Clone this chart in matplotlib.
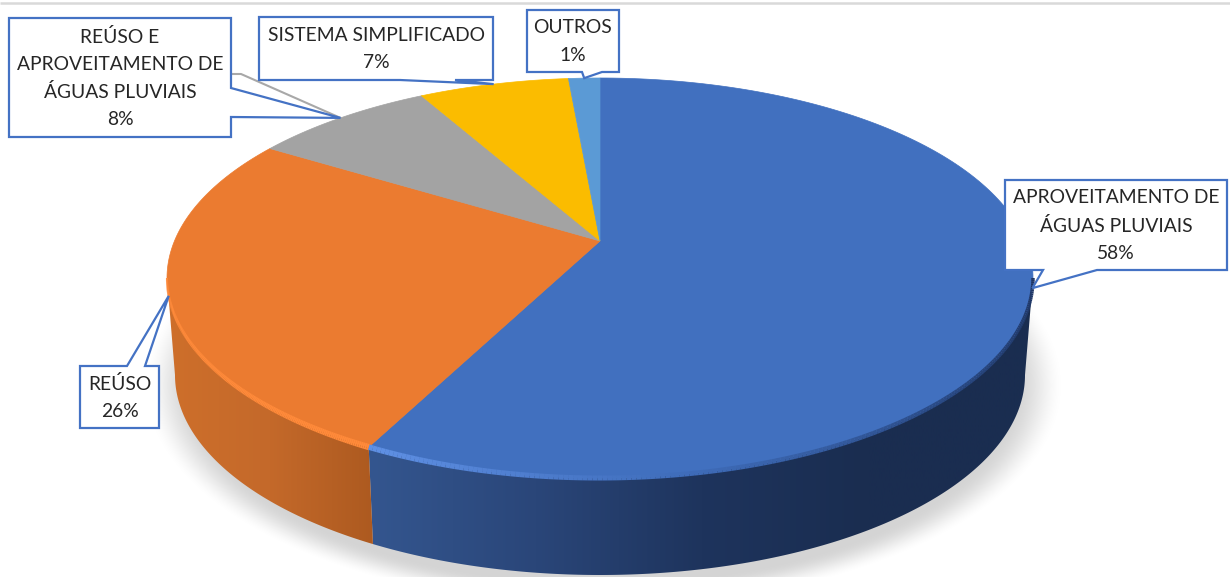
import numpy as np
import matplotlib
matplotlib.use('Agg')
import matplotlib.pyplot as plt
from matplotlib.collections import LineCollection
from matplotlib.colors import LinearSegmentedColormap
from matplotlib.patches import Polygon

# shares as drawn (labels show the rounded numbers)
categories = ['APROVEITAMENTO DE\nÁGUAS PLUVIAIS', 'REÚSO',
              'REÚSO E\nAPROVEITAMENTO DE\nÁGUAS PLUVIAIS',
              'SISTEMA SIMPLIFICADO', 'OUTROS']
shares = [57.5, 26.3, 8.1, 6.7, 1.4]
pct_labels = ['58%', '26%', '8%', '7%', '1%']
colors = ['#4170bf', '#eb7b30', '#a3a3a3', '#fbbc00', '#5b9ad5']

# label boxes: left, top, right, bottom, then where the pointer leaves the box
boxes = [(1005, 180, 1227, 270), (80, 366, 159, 428), (9, 18, 231, 137),
         (259, 17, 493, 80), (527, 10, 619, 72)]
bases = [((1043, 270), (1097, 270)), ((127, 366), (145, 366)),
         ((231, 88), (231, 117)), ((400, 80), (455, 80)), ((582, 72), (602, 72))]

plt.rcParams['font.family'] = ['Lato', 'DejaVu Sans']

fig = plt.figure(figsize=(12.3, 5.77), dpi=100)
ax = fig.add_axes([0, 0, 1, 1])
ax.set_axis_off()

# pie geometry in pixels
cx, cy, rx, ry = 600, 278, 433, 200
lcx, lcy, lrx, lry = 600, 375, 425, 200
d = (cy - 241) / ry  # perspective shift of the apex


def rim(theta, low=False):
    t = np.radians(theta)
    u, v = np.sin(t), np.cos(t)
    w = 1 + d * v
    up = u * np.sqrt(1 - d * d) / w
    vp = (v + d) / w
    if low:
        return lcx + lrx * up, lcy - lry * vp
    return cx + rx * up, cy - ry * vp


# soft shadow under the pie
yy, xx = np.mgrid[0:577, 0:1230]
r = np.sqrt(((xx - 603) / 432.0) ** 2 + ((yy - 385) / 208.0) ** 2)
a = np.clip((1.07 - r) / 0.12, 0, 1)
shadow = np.zeros((577, 1230, 4))
shadow[..., 3] = 0.17 * a * a * (3 - 2 * a)
ax.imshow(shadow, extent=(0, 1230, 577, 0), aspect='auto', zorder=1)

edges = np.cumsum([0] + shares) * 3.6
side_start = np.degrees(np.arccos(-d))
side_end = 360 - side_start


def draw_side(t0, t1, stops):
    th = np.linspace(t0, t1, 200)
    xt, yt = rim(th)
    xl, yl = rim(th[::-1], low=True)
    poly = Polygon(np.c_[np.r_[xt, xl], np.r_[yt, yl]], closed=True, fc='none', ec='none')
    ax.add_patch(poly)
    x0, x1 = min(xt.min(), xl.min()), max(xt.max(), xl.max())
    cmap = LinearSegmentedColormap.from_list('side', stops)
    im = ax.imshow(np.linspace(0, 1, 256)[None, :], extent=(x0, x1, 577, 0), aspect='auto',
                   cmap=cmap, zorder=2)
    im.set_clip_path(poly)


draw_side(side_start, edges[1], ['#34568f', '#2a4679', '#1e345d', '#1a2d50', '#1a2d50'])
draw_side(edges[1], side_end, ['#ce6f2b', '#c4692a', '#ad5a20'])

# top faces
for i in range(len(shares)):
    th = np.linspace(edges[i], edges[i + 1], 200)
    xt, yt = rim(th)
    pts = np.c_[np.r_[600, xt], np.r_[241, yt]]
    ax.add_patch(Polygon(pts, closed=True, fc=colors[i], ec=colors[i], lw=0.5, zorder=3))


def bevel(t0, t1, stops, widths):
    # highlight along the front rim, colour and width change along the arc
    th = np.linspace(t0, t1, 200)
    xt, yt = rim(th)
    seg = np.c_[xt, yt].reshape(-1, 1, 2)
    seg = np.concatenate([seg[:-1], seg[1:]], axis=1)
    cm = LinearSegmentedColormap.from_list('b', stops)
    lw = np.linspace(widths[0], widths[1], len(seg))
    ax.add_collection(LineCollection(seg, colors=cm(np.linspace(0, 1, len(seg))),
                                     linewidths=lw, zorder=4))


bevel(side_start, edges[1], ['#1f3562', '#2a4a85', '#3f6dbb', '#5f90e4'], (2.5, 4.0))
bevel(edges[1], side_end, ['#ff8a3a', '#ff8a3a'], (4.5, 1.5))

# callouts, the pointer goes to the middle of each slice's rim
for i, (box, base) in enumerate(zip(boxes, bases)):
    l, t, rr, b = box
    tip = rim((edges[i] + edges[i + 1]) / 2)
    corners = [(l, t), (rr, t), (rr, b), (l, b)]
    if base[0][1] == b:  # bottom edge, running right to left
        pts = corners[:3] + [base[1], tip, base[0]] + corners[3:]
    elif base[0][1] == t:  # top edge
        pts = corners[:1] + [base[0], tip, base[1]] + corners[1:]
    else:  # right edge
        pts = corners[:2] + [base[0], tip, base[1]] + corners[2:]
    if i == 2:
        # grey leader line of this label
        ax.plot([rr, rr + 10, tip[0]], [74, 74, tip[1]], color='#a8a8a8', lw=1.5, zorder=5)
    ax.add_patch(Polygon(pts, closed=True, fc='white', ec='#4472c4', lw=1.6, zorder=6,
                         joinstyle='miter'))
    ax.text((l + rr) / 2, (t + b) / 2 + 0.5, categories[i] + '\n' + pct_labels[i], ha='center',
            va='center', fontsize=13.9, color='#262626', linespacing=1.72, zorder=7)

# grey line along the top of the screenshot
ax.hlines(2.5, 0, 1230, color='#d9d9d9', lw=1.8, zorder=1)

ax.set_xlim(0, 1230)
ax.set_ylim(577, 0)
fig.savefig('out.png', dpi=100, facecolor='white')
